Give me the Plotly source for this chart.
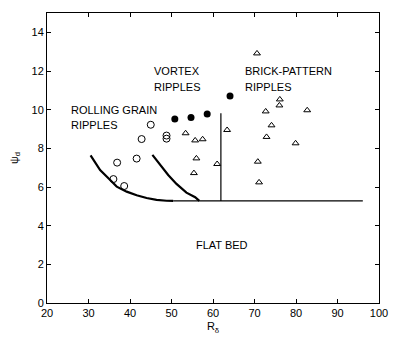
import plotly.graph_objects as go

# Open circles (rolling grain ripples)
open_x = [45.0, 42.8, 48.8, 48.8, 41.6, 36.9, 36.0, 38.6]
open_y = [9.22, 8.48, 8.66, 8.50, 7.47, 7.26, 6.41, 6.05]

# Filled circles (vortex ripples)
fill_x = [50.8, 54.7, 58.6, 64.1]
fill_y = [9.52, 9.60, 9.78, 10.71]

# Triangles (brick-pattern ripples)
tri_x = [70.6, 53.4, 55.7, 57.5, 56.0, 55.4, 61.0, 63.4, 72.7, 76.1, 76.0, 82.7, 74.1, 72.9, 79.9, 70.8, 71.1]
tri_y = [12.91, 8.78, 8.41, 8.47, 7.48, 6.72, 7.19, 8.95, 9.91, 10.53, 10.22, 9.97, 9.19, 8.59, 8.26, 7.31, 6.24]

# Boundary curves
curve1_x = [30.5, 32.8, 34.8, 36.8, 39.2, 41.6, 44.0, 46.4, 48.8, 50.4]
curve1_y = [7.64, 6.88, 6.45, 6.02, 5.76, 5.57, 5.43, 5.33, 5.29, 5.28]
curve2_x = [45.4, 47.2, 49.2, 51.2, 53.6, 55.7, 56.7]
curve2_y = [7.66, 7.14, 6.62, 6.16, 5.71, 5.47, 5.28]
hline_x = [50.4, 96.1]
hline_y = [5.28, 5.28]
vline_x = [61.9, 61.9]
vline_y = [5.28, 9.81]

labels = [
    ("VORTEX", 45.4, 12.0),
    ("RIPPLES", 45.4, 11.19),
    ("BRICK-PATTERN", 67.3, 12.0),
    ("RIPPLES", 67.3, 11.19),
    ("ROLLING GRAIN", 25.4, 9.98),
    ("RIPPLES", 25.4, 9.21),
    ("FLAT BED", 55.3, 3.0),
]

FONT = "Liberation Sans, Arial, sans-serif"

fig = go.Figure()
fig.add_trace(go.Scatter(x=curve1_x, y=curve1_y, mode="lines",
                         line=dict(color="black", width=2.2), showlegend=False))
fig.add_trace(go.Scatter(x=curve2_x, y=curve2_y, mode="lines",
                         line=dict(color="black", width=2.2), showlegend=False))
fig.add_trace(go.Scatter(x=hline_x, y=hline_y, mode="lines",
                         line=dict(color="black", width=1.2), showlegend=False))
fig.add_trace(go.Scatter(x=vline_x, y=vline_y, mode="lines",
                         line=dict(color="black", width=1.2), showlegend=False))
fig.add_trace(go.Scatter(x=open_x, y=open_y, mode="markers",
                         marker=dict(symbol="circle-open", size=7, color="black",
                                     line=dict(width=1)), showlegend=False))
fig.add_trace(go.Scatter(x=fill_x, y=fill_y, mode="markers",
                         marker=dict(symbol="circle", size=7, color="black"),
                         showlegend=False))
fig.add_trace(go.Scatter(x=tri_x, y=tri_y, mode="markers",
                         marker=dict(symbol="triangle-up-open", size=6, color="black",
                                     line=dict(width=1)), showlegend=False))

for txt, x, y in labels:
    fig.add_annotation(x=x, y=y, text=txt, showarrow=False, xanchor="left",
                       yanchor="middle", font=dict(family=FONT, size=11, color="black"))

axis_common = dict(showgrid=False, zeroline=False, showline=True, linecolor="black",
                   linewidth=1, mirror="ticks", ticks="inside", ticklen=4,
                   tickcolor="black", tickfont=dict(family=FONT, size=11, color="black"))

fig.update_layout(
    width=400, height=350,
    margin=dict(l=47, r=21, t=13, b=47),
    paper_bgcolor="white", plot_bgcolor="white",
    xaxis=dict(range=[20, 100], dtick=10, tick0=20,
               title=dict(text="R<sub>δ</sub>", font=dict(family=FONT, size=11, color="black"),
                          standoff=4),
               **axis_common),
    yaxis=dict(range=[0, 15], dtick=2, tick0=0,
               title=dict(text="ψ<sub>d</sub>", font=dict(family=FONT, size=11, color="black"),
                          standoff=10),
               **axis_common),
)

fig.write_html("out.html")
